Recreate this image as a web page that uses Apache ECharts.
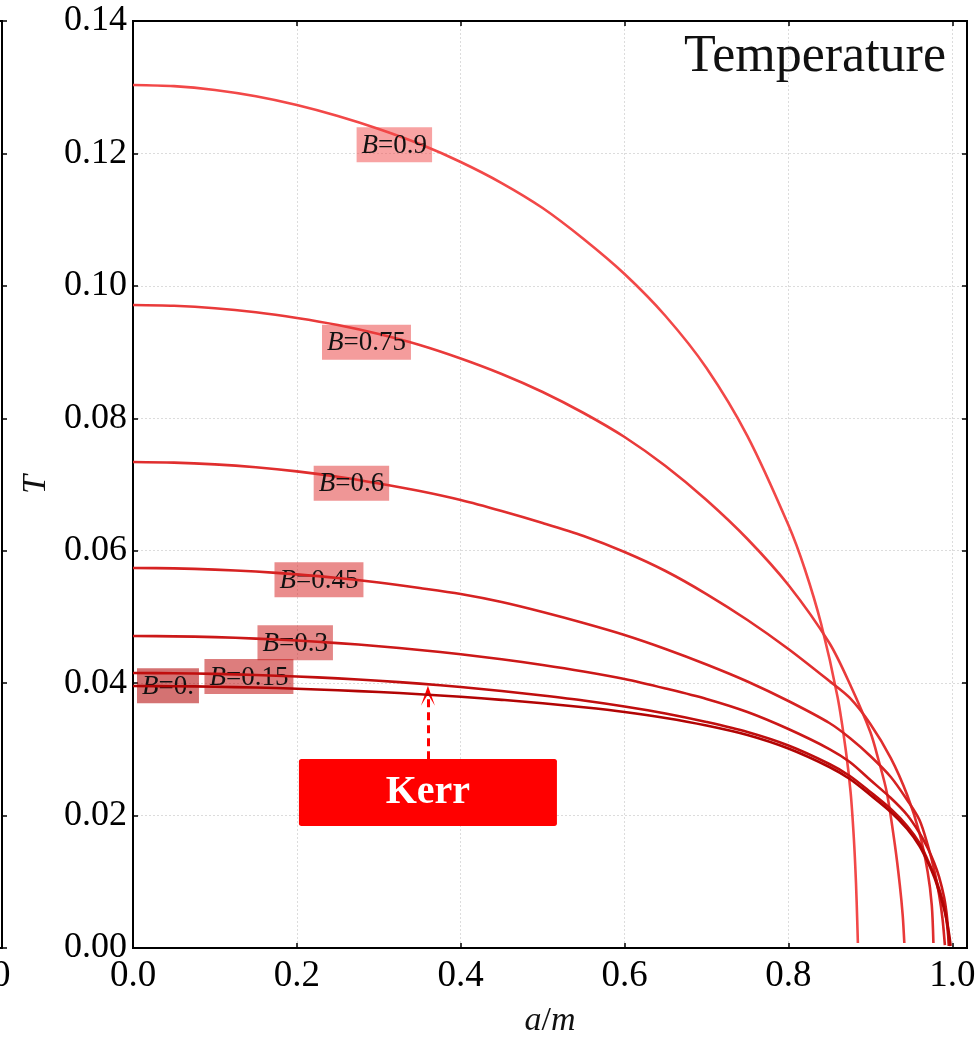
<!DOCTYPE html>
<html>
<head>
<meta charset="utf-8">
<script src="https://cdn.jsdelivr.net/npm/echarts@6/dist/echarts.min.js"></script>
<style>
  html, body { margin: 0; padding: 0; background: #ffffff; }
  #chart { width: 979px; height: 1045px; }
</style>
</head>
<body>
<div id="chart"></div>
<script>
// Hawking temperature T against spin a/m for several field strengths B.
const fieldLabels = ['0.9', '0.75', '0.6', '0.45', '0.3', '0.15', '0.'];

const curveB090 = [[0, 0.13034], [0.05, 0.13016], [0.1, 0.12958], [0.15, 0.12863], [0.2, 0.12731], [0.25, 0.12565],
  [0.3, 0.12369], [0.35, 0.12142], [0.4, 0.11871], [0.45, 0.11553], [0.5, 0.11176], [0.55, 0.10708],
  [0.6, 0.10179], [0.65, 0.09545], [0.7, 0.08760], [0.75, 0.07732], [0.8, 0.06388], [0.82, 0.05724],
  [0.84, 0.04893], [0.86, 0.03791], [0.87, 0.02990], [0.876, 0.02341], [0.88, 0.01631], [0.8825, 0.00982],
  [0.884, 0.00423], [0.8848, 0.00076]];
const curveB075 = [[0, 0.09711], [0.05, 0.09699], [0.1, 0.09663], [0.15, 0.09601], [0.2, 0.09515], [0.25, 0.09409],
  [0.3, 0.09273], [0.35, 0.09107], [0.4, 0.08903], [0.45, 0.08669], [0.5, 0.08397], [0.55, 0.08080],
  [0.6, 0.07717], [0.65, 0.07279], [0.7, 0.06766], [0.75, 0.06177], [0.8, 0.05482], [0.85, 0.04606],
  [0.875, 0.03987], [0.9, 0.03262], [0.91, 0.02839], [0.92, 0.02356], [0.93, 0.01556], [0.936, 0.00951],
  [0.9395, 0.00498], [0.9415, 0.00076]];
const curveB060 = [[0, 0.07340], [0.05, 0.07331], [0.1, 0.07304], [0.15, 0.07260], [0.2, 0.07198], [0.25, 0.07116],
  [0.3, 0.07015], [0.35, 0.06902], [0.4, 0.06766], [0.45, 0.06600], [0.5, 0.06419], [0.55, 0.06222],
  [0.6, 0.05981], [0.65, 0.05694], [0.7, 0.05346], [0.75, 0.04954], [0.8, 0.04516], [0.85, 0.04032],
  [0.875, 0.03776], [0.9, 0.03383], [0.925, 0.02869], [0.945, 0.02311], [0.96, 0.01737], [0.97, 0.01148],
  [0.975, 0.00649], [0.977, 0.00076]];
const curveB045 = [[0, 0.05739], [0.05, 0.05733], [0.1, 0.05715], [0.15, 0.05685], [0.2, 0.05642], [0.25, 0.05588],
  [0.3, 0.05520], [0.35, 0.05437], [0.4, 0.05346], [0.45, 0.05225], [0.5, 0.05074], [0.55, 0.04908],
  [0.6, 0.04727], [0.65, 0.04516], [0.7, 0.04282], [0.75, 0.04025], [0.8, 0.03730], [0.85, 0.03398],
  [0.875, 0.03172], [0.9, 0.02900], [0.925, 0.02583], [0.945, 0.02235], [0.96, 0.01933], [0.97, 0.01556],
  [0.978, 0.01178], [0.984, 0.00800], [0.988, 0.00453], [0.991, 0.00045]];
const curveB030 = [[0, 0.04712], [0.05, 0.04707], [0.1, 0.04695], [0.15, 0.04673], [0.2, 0.04644], [0.25, 0.04605],
  [0.3, 0.04558], [0.35, 0.04501], [0.4, 0.04436], [0.45, 0.04360], [0.5, 0.04274], [0.55, 0.04176],
  [0.6, 0.04063], [0.65, 0.03919], [0.7, 0.03761], [0.75, 0.03564], [0.8, 0.03307], [0.85, 0.03005],
  [0.875, 0.02809], [0.9, 0.02537], [0.925, 0.02265], [0.945, 0.02009], [0.96, 0.01737], [0.97, 0.01510],
  [0.978, 0.01284], [0.984, 0.01072], [0.99, 0.00770], [0.993, 0.00529], [0.995, 0.00272], [0.9965, 0.00030]];
const curveB015 = [[0, 0.04153], [0.05, 0.04150], [0.1, 0.04140], [0.15, 0.04123], [0.2, 0.04100], [0.25, 0.04072],
  [0.3, 0.04035], [0.35, 0.03993], [0.4, 0.03942], [0.45, 0.03881], [0.5, 0.03813], [0.55, 0.03738],
  [0.6, 0.03647], [0.65, 0.03542], [0.7, 0.03413], [0.75, 0.03262], [0.8, 0.03058], [0.85, 0.02779],
  [0.875, 0.02598], [0.9, 0.02356], [0.925, 0.02099], [0.945, 0.01843], [0.96, 0.01586], [0.97, 0.01329],
  [0.978, 0.01102], [0.984, 0.00891], [0.99, 0.00634], [0.993, 0.00423], [0.995, 0.00196], [0.9958, 0.00030]];
const curveB000 = [[0, 0.03957], [0.05, 0.03954], [0.1, 0.03946], [0.15, 0.03934], [0.2, 0.03916], [0.25, 0.03893],
  [0.3, 0.03866], [0.35, 0.03833], [0.4, 0.03794], [0.45, 0.03748], [0.5, 0.03696], [0.55, 0.03635],
  [0.6, 0.03564], [0.65, 0.03474], [0.7, 0.03360], [0.75, 0.03217], [0.8, 0.03013], [0.85, 0.02734],
  [0.875, 0.02552], [0.9, 0.02311], [0.925, 0.02054], [0.945, 0.01797], [0.96, 0.01540], [0.97, 0.01299],
  [0.978, 0.01072], [0.984, 0.00846], [0.99, 0.00589], [0.994, 0.00362], [0.9965, 0.00181], [0.998, 0.00030]];

// where each B label sits (data coordinates)
const labelAnchors = [[0.319, 0.1213], [0.285, 0.0915], [0.2666, 0.0702], [0.227, 0.0556],
  [0.198, 0.0461], [0.1415, 0.0410], [0.0427, 0.0396]];

const kerrBoxAt = [0.36, 0.0235];
const kerrArrowFrom = [0.36, 0.0285];
const kerrArrowTo = [0.36, 0.0381];

const xTickStep = 0.2;
const yTickStep = 0.02;

const curves = [curveB090, curveB075, curveB060, curveB045, curveB030, curveB015, curveB000];
const lineColors = ['#f24848', '#e93a3a', '#e02e2e', '#d62222', '#cc1818', '#c00e0e', '#b20404'];
const boxColors = ['rgba(242,72,72,0.5)', 'rgba(233,58,58,0.5)', 'rgba(224,46,46,0.5)', 'rgba(214,34,34,0.52)',
  'rgba(204,24,24,0.52)', 'rgba(192,14,14,0.54)', 'rgba(178,4,4,0.56)'];

const SERIF = '"Liberation Serif", "DejaVu Serif", serif';
const X_MAX = 1.018;

function onStep(v, step) {
  const k = v / step;
  return Math.abs(k - Math.round(k)) < 1e-6;
}

const gridLine = { show: true, lineStyle: { color: '#dcdcdc', type: [2, 2], width: 1 } };
const blackLine = { show: true, onZero: false, lineStyle: { color: '#000', width: 2 } };
const innerTick = { show: true, inside: true, length: 5, lineStyle: { color: '#000', width: 1.5 } };

const xLabel = {
  fontSize: 37, color: '#000', fontFamily: SERIF, margin: 10,
  formatter: v => (onStep(v, xTickStep) && v <= 1.0001 ? v.toFixed(1) : '')
};

const series = curves.map((c, i) => {
  const s = {
    type: 'line',
    xAxisIndex: 0, yAxisIndex: 0,
    data: c,
    showSymbol: false,
    smooth: 0.3,
    lineStyle: { color: lineColors[i], width: 2.6 },
    itemStyle: { color: lineColors[i] },
    z: 2 + i,
    markPoint: {
      symbol: 'rect',
      symbolSize: 1,
      itemStyle: { color: 'rgba(0,0,0,0)' },
      data: [{
        coord: labelAnchors[i],
        label: {
          show: true,
          position: 'inside',
          formatter: '{i|B}{r|=' + fieldLabels[i] + '}',
          backgroundColor: boxColors[i],
          padding: [5, 5, 3, 5],
          rich: {
            i: { fontFamily: SERIF, fontStyle: 'italic', fontSize: 27, color: '#111' },
            r: { fontFamily: SERIF, fontSize: 27, color: '#111' }
          }
        }
      }]
    }
  };
  if (i === curves.length - 1) {
    s.markPoint.data.push({
      coord: kerrBoxAt,
      symbol: 'path://M1,0 H99 Q100,0 100,1 V25 Q100,26 99,26 H1 Q0,26 0,25 V1 Q0,0 1,0 Z',
      symbolSize: [258, 67],
      symbolKeepAspect: false,
      itemStyle: { color: '#ff0000' },
      label: {
        show: true, position: 'inside', formatter: 'Kerr',
        color: '#ffffff', fontFamily: SERIF, fontWeight: 'bold', fontSize: 40
      }
    });
    s.markLine = {
      silent: true,
      symbol: ['none', 'path://M0,14 L5,0 L10,14 L5,6 Z'],
      symbolSize: [14, 20],
      label: { show: false },
      lineStyle: { color: '#ff0000', width: 3, type: [8, 5] },
      data: [[{ coord: kerrArrowFrom }, { coord: kerrArrowTo }]]
    };
  }
  return s;
});

const chart = echarts.init(document.getElementById('chart'), null, { renderer: 'canvas' });
chart.setOption({
  animation: false,
  backgroundColor: '#ffffff',
  title: {
    text: 'Temperature',
    right: 33, top: 31, padding: 0,
    textStyle: { fontFamily: SERIF, fontSize: 52, fontWeight: 'normal', color: '#111' }
  },
  grid: [
    { left: 133, right: 12, top: 21, bottom: 97, show: true, borderColor: '#000', borderWidth: 2,
      outerBoundsMode: 'none' },
    { left: -832, right: 977, top: 21, bottom: 97, show: true, borderColor: '#000', borderWidth: 2,
      outerBoundsMode: 'none' }
  ],
  xAxis: [
    {
      type: 'value', gridIndex: 0, position: 'bottom', min: 0, max: X_MAX, interval: xTickStep,
      axisLine: blackLine, axisTick: innerTick, axisLabel: xLabel, splitLine: gridLine,
      name: '{i|a}{r|/}{i|m}', nameLocation: 'middle', nameGap: 56,
      nameTextStyle: {
        rich: {
          i: { fontFamily: SERIF, fontStyle: 'italic', fontSize: 34, color: '#111' },
          r: { fontFamily: SERIF, fontSize: 34, color: '#111' }
        }
      }
    },
    {
      type: 'value', gridIndex: 0, position: 'top', min: 0, max: X_MAX, interval: xTickStep,
      axisLine: blackLine, axisTick: innerTick, axisLabel: { show: false }, splitLine: { show: false }
    },
    {
      type: 'value', gridIndex: 1, position: 'bottom', min: 0, max: X_MAX, interval: xTickStep,
      axisLine: blackLine, axisTick: innerTick, axisLabel: xLabel, splitLine: { show: false }
    }
  ],
  yAxis: [
    {
      type: 'value', gridIndex: 0, position: 'left', min: 0, max: 0.14, interval: yTickStep,
      axisLine: blackLine, axisTick: innerTick, splitLine: gridLine,
      axisLabel: { fontSize: 36, color: '#000', fontFamily: SERIF, margin: 6, formatter: v => v.toFixed(2) },
      name: 'T', nameLocation: 'middle', nameRotate: 90, nameGap: 80,
      nameTextStyle: { fontFamily: SERIF, fontStyle: 'italic', fontSize: 34, color: '#111' }
    },
    {
      type: 'value', gridIndex: 0, position: 'right', min: 0, max: 0.14, interval: yTickStep,
      axisLine: blackLine, axisTick: innerTick, axisLabel: { show: false }, splitLine: { show: false }
    },
    {
      type: 'value', gridIndex: 1, position: 'right', min: 0, max: 0.14, interval: yTickStep,
      axisLine: blackLine, axisTick: { show: true, inside: false, length: 5, lineStyle: { color: '#000', width: 1.5 } },
      axisLabel: { show: false }, splitLine: { show: false }
    }
  ],
  series: series
});
</script>
</body>
</html>
